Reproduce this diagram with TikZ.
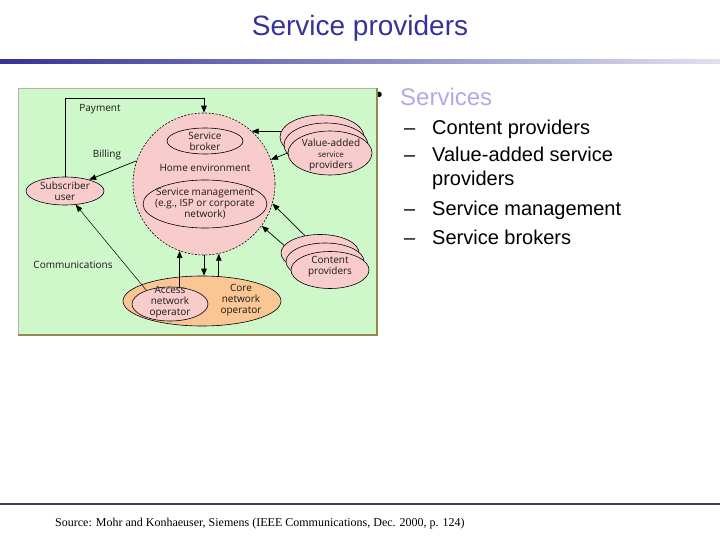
\documentclass[tikz,border=0pt]{standalone}
\usepackage{fontspec}
\setmainfont{Liberation Sans}
\newfontfamily\figfont{Open Sans}
\newfontfamily\srcfont{Liberation Serif}
\usetikzlibrary{positioning,shapes.geometric,arrows.meta}

\definecolor{figgreen}{RGB}{206,247,202}
\definecolor{figpink}{RGB}{249,204,204}
\definecolor{figorange}{RGB}{249,198,148}
\definecolor{titleblue}{RGB}{51,51,153}
\definecolor{linkblue}{RGB}{172,172,226}
\definecolor{boxedge}{RGB}{150,136,84}
\definecolor{footline}{RGB}{64,64,96}

\tikzset{
  oval/.style={ellipse, draw, fill=figpink, inner sep=0pt, line width=0.6pt},
  txt/.style={font=\figfont\fontsize{10}{11}\selectfont, align=center, text=black!90, inner sep=0pt},
  arr/.style={-{Triangle[length=7pt,width=5.5pt]}, line width=0.7pt},
  item/.style={font=\fontsize{20}{20}\selectfont, anchor=base west, inner sep=0pt},
}

\begin{document}
\begin{tikzpicture}[x=1pt,y=-1pt]
      \useasboundingbox (0,0) rectangle (720,540);

      % Title and rules
      \node[font=\fontsize{28}{30}\selectfont, text=titleblue, anchor=base] (title) at (360,36) {Service providers};
      \shade[left color=titleblue, right color=titleblue!15] (0,60) rectangle (720,64);
      \draw[footline, line width=1.2pt] (0,504) -- (720,504);
      \node[font=\srcfont\fontsize{12}{13}\selectfont, anchor=base west, inner sep=0pt] (src) at (55,526)
        {Source: Mohr and Konhaeuser, Siemens (IEEE Communications, Dec. 2000, p. 124)};

      % Bullet list
      \node[font=\fontsize{20}{20}\selectfont, inner sep=0pt] (dot) at (379,97) {\textbullet};
      \node[font=\fontsize{24}{24}\selectfont, text=linkblue, anchor=base west, inner sep=0pt] (serv) at (400,106) {Services};
      \foreach \yy in {135,162,215,244}
        \node[item] (dash\yy) at (404,\yy) {--};
      \node[item] (item1) at (432,135) {Content providers};
      \node[item] (item2) at (432,162) {Value-added service};
      \node[item] (item3) at (432,186) {providers};
      \node[item] (item4) at (432,215) {Service management};
      \node[item] (item5) at (432,244) {Service brokers};

      % Figure panel
      \draw[gray!60, fill=figgreen] (18,88) rectangle (377,335);
      \draw[boxedge, line width=1.5pt] (18,335) -- (377,335) -- (377,88);

      % Nodes
      \node[circle, draw, fill=figpink, line width=0.6pt, dash pattern=on 2pt off 1.5pt,
            minimum size=142pt, inner sep=0pt] (home) at (204,184) {};
      \node[oval, minimum width=76pt, minimum height=26pt] (broker) at (205,141) {};
      \node[txt] (brokerlbl) at (broker) {Service\\broker};
      \node[txt] (homelbl) at (205,168) {Home environment};
      \node[oval, minimum width=124pt, minimum height=48pt] (mgmt) at (205,204) {};
      \node[txt] (mgmtlbl) at (mgmt) {Service management\\(e.g., ISP or corporate\\network)};

      \node[oval, minimum width=78pt, minimum height=28pt] (sub) at (65,191) {};
      \node[txt] (sublbl) at (sub) {Subscriber\\user};

      \node[oval, fill=figorange, minimum width=158pt, minimum height=50pt] (core) at (202,301) {};
      \node[txt] (corelbl) at (241,300) {Core\\network\\operator};
      \node[oval, minimum width=76pt, minimum height=34pt] (acc) at (170,304) {};
      \node[txt] (acclbl) at (170,302) {Access\\network\\operator};

      \foreach \k in {2,1,0}
        \node[oval, minimum width=84pt, minimum height=44pt] (va\k) at ({330-4*\k},{153-8*\k}) {};
      \node[txt] (valbl) at (331,155) {Value-added\\{\fontsize{8}{8.5}\selectfont service}\\providers};

      \foreach \k in {2,1,0}
        \node[oval, minimum width=78pt, minimum height=37pt] (cp\k) at ({330-5*\k},{270-8.5*\k}) {};
      \node[txt] (cplbl) at (330,267) {Content\\providers};

      \node[txt] (paylbl) at (100,109) {Payment};
      \node[txt] (billlbl) at (107,155) {Billing};
      \node[txt] (commlbl) at (73,265) {Communications};

      % Draw edges between the parties
      \coordinate (paycorner) at (204,98);
      \draw[arr] (sub.north) |- (paycorner) -- (home.north);
      \draw[arr] (home.161) -- (sub.25);
      \draw[arr, line width=0.5pt] (acc.150) -- (sub.-52);

      \draw[arr] (acc.north -| home.250) -- (home.250);
      \draw[arr] (home.south) -- (home.south |- core.north);
      \draw[arr] (home.282 |- core.north) -- (home.282);

      \draw[arr] (va2.172) -- (home.48 |- va2.172);
      \draw[arr] (va0.west) -- (home.20);

      \draw[arr] (cp2.131) -- (home.-16);
      \draw[arr] (cp2.168) -- (home.-36);

    \end{tikzpicture}
\end{document}
